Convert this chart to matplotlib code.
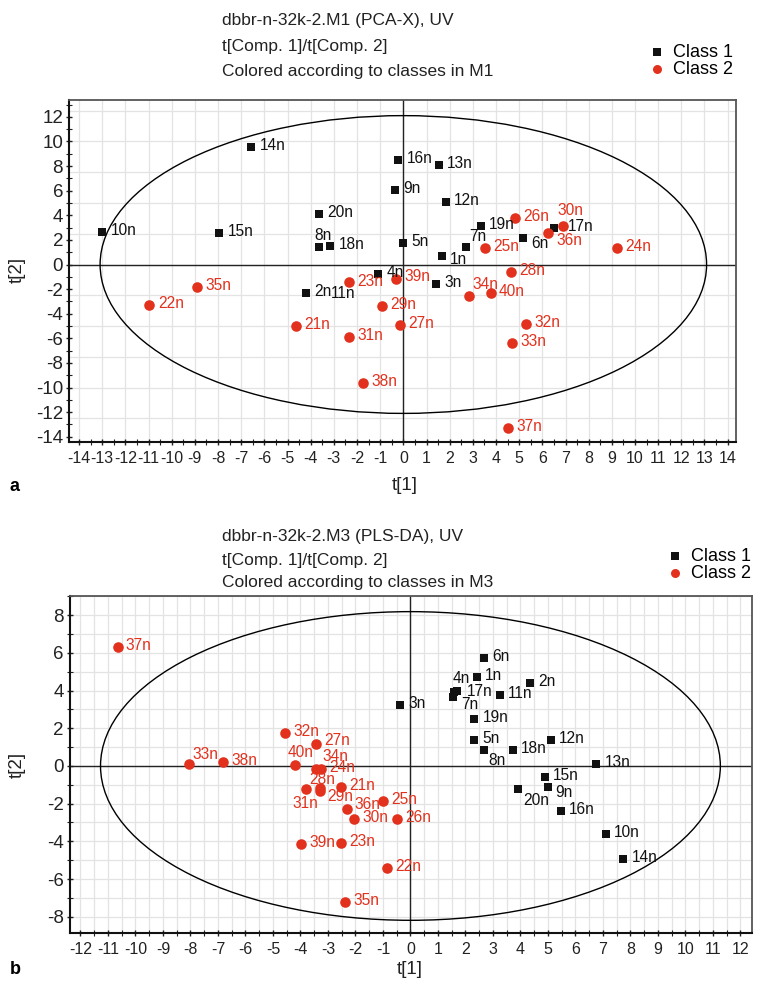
import numpy as np
import matplotlib
matplotlib.use("Agg")
import matplotlib.pyplot as plt
from matplotlib.patches import Ellipse

plt.rcParams['font.family'] = ['Liberation Sans', 'DejaVu Sans']
plt.rcParams['axes.unicode_minus'] = False

# ---- data: panel a (PCA-X, M1) ----
a_names1 = [f"{i}n" for i in range(1, 21)]
a_x1 = [1.67, -4.21, 1.41, -1.08, -0.03, 5.17, 2.71, -3.64, -0.36, -13.0,
        -4.21, 1.84, 1.54, -6.57, -7.94, -0.22, 6.50, -3.16, 3.35, -3.64]
a_y1 = [0.67, -2.34, -1.56, -0.77, 1.72, 2.15, 1.40, 1.42, 6.06, 2.62,
        -2.34, 5.08, 8.09, 9.53, 2.54, 8.50, 2.94, 1.50, 3.11, 4.08]
a_names2 = [f"{i}n" for i in range(21, 41)]
a_x2 = [-4.62, -10.96, -2.36, 9.24, 3.53, 4.81, -0.14, 4.65, -0.92, 6.88,
        -2.36, 5.28, 4.69, 2.82, -8.92, 6.23, 4.52, -1.74, -0.32, 3.77]
a_y2 = [-5.00, -3.29, -1.46, 1.37, 1.37, 3.80, -4.89, -0.59, -3.40, 3.13,
        -5.87, -4.85, -6.36, -2.56, -1.85, 2.59, -13.29, -9.61, -1.20, -2.29]
a_ellipse = (13.09, 12.1)   # T2 ellipse half axes

# ---- data: panel b (PLS-DA, M3) ----
b_names1 = [f"{i}n" for i in range(1, 21)]
b_x1 = [2.41, 4.35, -0.38, 1.68, 2.32, 2.67, 1.53, 2.67, 5.01, 7.11,
        3.25, 5.11, 6.75, 7.74, 4.88, 5.47, 1.58, 3.73, 2.32, 3.91]
b_y1 = [4.71, 4.39, 3.22, 3.98, 1.36, 5.71, 3.68, 0.83, -1.13, -3.62,
        3.77, 1.36, 0.11, -4.93, -0.57, -2.40, 3.94, 0.83, 2.48, -1.24]
b_names2 = [f"{i}n" for i in range(21, 41)]
b_x2 = [-2.53, -0.87, -2.53, -3.27, -0.99, -0.50, -3.44, -3.28, -3.28, -2.04,
        -3.78, -4.56, -8.07, -3.44, -2.37, -2.30, -10.65, -6.82, -3.97, -4.20]
b_y2 = [-1.13, -5.43, -4.10, -0.18, -1.84, -2.83, 1.17, -1.17, -1.31, -2.83,
        -1.24, 1.73, 0.11, -0.18, -7.20, -2.30, 6.30, 0.23, -4.14, 0.07]
b_ellipse = (11.27, 8.19)

RED = '#e2311d'
BLACK = '#111111'
W, H = 763, 985

# label offsets in points (default is right of the marker)
a_off = {'8n': (-3, 8), '7n': (2, 8), '1n': (6, -2), '6n': (6, -4),
         '36n': (6, -6), '30n': (-4, 11), '17n': (10, 1), '34n': (3, 8.5),
         '11n': (18.3, 0), '39n': (6, 2)}
b_off = {'33n': (3, 7), '40n': (-5, 8.5), '34n': (5, 9), '27n': (6, 2.5),
         '28n': (-8, 6), '31n': (-10, -10), '29n': (5, -4), '36n': (5.5, 3.5),
         '4n': (-3, 9), '17n': (9.5, 0), '7n': (6.5, -6), '8n': (3, -7),
         '9n': (5, -4), '20n': (3.5, -8)}


def px_box(l, t, r, b):
    return [l / W, 1 - b / H, (r - l) / W, (b - t) / H]


def panel(ax, x1, y1, n1, x2, y2, n2, ell, offs, xlim, ylim, xgrid, ygrid,
          yticks):
    ax.set_xlim(*xlim)
    ax.set_ylim(*ylim)
    for g in xgrid:
        ax.axvline(g, color='#e3e3e3', lw=0.9, zorder=0)
    for g in ygrid:
        ax.axhline(g, color='#e3e3e3', lw=0.9, zorder=0)
    ax.axhline(0, color='#222222', lw=1.0, zorder=1)
    ax.axvline(0, color='#222222', lw=1.0, zorder=1)
    ax.add_patch(Ellipse((0, 0), 2 * ell[0], 2 * ell[1], fill=False,
                         ec='black', lw=1.0, zorder=2))
    ax.scatter(x1, y1, marker='s', s=40, color=BLACK, zorder=3,
               label='Class 1', linewidths=0)
    ax.scatter(x2, y2, marker='o', s=58, color=RED, zorder=3,
               label='Class 2', linewidths=0)
    for xs, ys, ns, c in [(x1, y1, n1, BLACK), (x2, y2, n2, RED)]:
        for xx, yy, nn in zip(xs, ys, ns):
            dx, dy = offs.get(nn, (6, 1))
            ax.annotate(nn, (xx, yy), xytext=(dx, dy),
                        textcoords='offset points', ha='left', va='center',
                        fontsize=11.2, color=c, zorder=4)
    xt = np.arange(np.ceil(xlim[0]), np.floor(xlim[1]) + 1)
    ax.set_xticks(xt)
    ax.set_xticklabels([f"{int(v)}" for v in xt])
    ax.set_xticks(np.arange(np.ceil(xlim[0] * 2) / 2, xlim[1], 0.5),
                  minor=True)
    ax.set_yticks(yticks)
    ax.set_yticks(np.arange(np.ceil(ylim[0]), ylim[1], 1), minor=True)
    ax.tick_params(which='both', direction='inout', colors='#222222', pad=2)
    ax.tick_params(axis='x', labelsize=11.5, pad=4)
    ax.tick_params(axis='y', labelsize=13.5, pad=2)
    ax.tick_params(which='major', length=5, width=1)
    ax.tick_params(which='minor', length=4, width=0.8)
    for s in ['left', 'bottom']:
        ax.spines[s].set_color('#111111')
        ax.spines[s].set_linewidth(1.5)
    for s in ['top', 'right']:
        ax.spines[s].set_color('#555555')
        ax.spines[s].set_linewidth(1.3)


fig = plt.figure(figsize=(W / 100, H / 100), dpi=100)

ax1 = fig.add_axes(px_box(69.3, 100, 736, 441.7))
panel(ax1, a_x1, a_y1, a_names1, a_x2, a_y2, a_names2, a_ellipse, a_off,
      (-14.42, 14.36), (-14.4, 13.37),
      np.arange(-14, 15, 1), np.arange(-12.5, 13.5, 2.5),
      np.arange(-14, 13, 2))

ax2 = fig.add_axes(px_box(70, 596, 751.7, 933.3))
panel(ax2, b_x1, b_y1, b_names1, b_x2, b_y2, b_names2, b_ellipse, b_off,
      (-12.38, 12.41), (-8.88, 9.02),
      np.arange(-12, 12.6, 0.5), np.arange(-8, 9.5, 1),
      np.arange(-8, 9, 2))

# titles
tfs = 12.5
for txt, yp in [("dbbr-n-32k-2.M1 (PCA-X), UV", 20),
                ("t[Comp. 1]/t[Comp. 2]", 46),
                ("Colored according to classes in M1", 71)]:
    fig.text(222 / W, 1 - yp / H, txt, fontsize=tfs, va='center',
             color='#222222')
for txt, yp in [("dbbr-n-32k-2.M3 (PLS-DA), UV", 537),
                ("t[Comp. 1]/t[Comp. 2]", 560),
                ("Colored according to classes in M3", 583)]:
    fig.text(222 / W, 1 - yp / H, txt, fontsize=tfs, va='center',
             color='#222222')

# legends
for ax, xp, yp in [(ax1, 650, 44), (ax2, 668, 548)]:
    ax.legend(loc='upper left', bbox_to_anchor=(xp / W, 1 - yp / H),
              bbox_transform=fig.transFigure, frameon=False, fontsize=13,
              handlelength=0.8, handletextpad=0.5, labelspacing=0.0,
              borderpad=0, borderaxespad=0, markerscale=0.85)

# axis labels
fig.text(405 / W, 1 - 485 / H, "t[1]", fontsize=13.5, ha='center',
         va='center', color='#222222')
fig.text(410 / W, 1 - 970 / H, "t[1]", fontsize=13.5, ha='center',
         va='center', color='#222222')
fig.text(17 / W, 1 - 270 / H, "t[2]", fontsize=13.5, ha='center',
         va='center', rotation=90, color='#222222')
fig.text(17 / W, 1 - 765 / H, "t[2]", fontsize=13.5, ha='center',
         va='center', rotation=90, color='#222222')
fig.text(15 / W, 1 - 487 / H, "a", fontsize=13, fontweight='bold',
         ha='center', va='center')
fig.text(15 / W, 1 - 970 / H, "b", fontsize=13, fontweight='bold',
         ha='center', va='center')

fig.savefig('out.png', dpi=100)
